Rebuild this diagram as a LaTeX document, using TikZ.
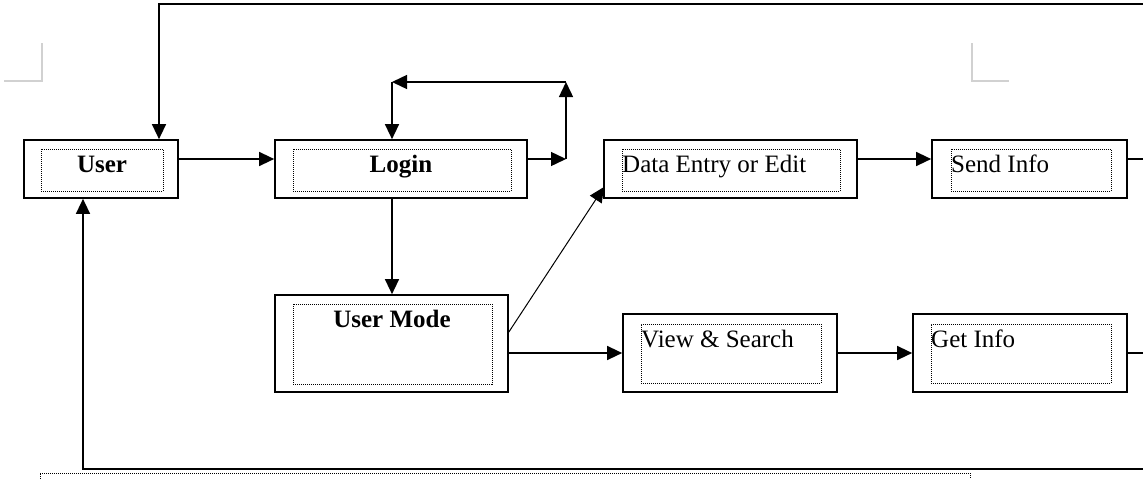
\documentclass[tikz,border=0pt]{standalone}
\usepackage{fontspec}
\setmainfont{Liberation Serif}
\usetikzlibrary{arrows.meta}
\begin{document}
\begin{tikzpicture}[x=1pt,y=-1pt,
  outer/.style={draw, line width=1.7pt, inner sep=0pt, fill=white},
  inner/.style={draw, line width=1pt, dash pattern=on 1pt off 1pt, inner sep=0pt},
  lbl/.style={inner sep=0pt, anchor=base, font=\fontsize{25}{28}\selectfont\bfseries},
  plbl/.style={inner sep=0pt, anchor=base west, font=\fontsize{25}{28}\selectfont},
  conn/.style={line width=1.4pt},
  arr/.style={conn, -{Triangle[length=15pt,width=14pt]}},
  corner/.style={draw=black!18, line width=1.5pt}]
\useasboundingbox (0,0) rectangle (1143,479);
% corner marks
\draw[corner] (42,43) -- (42,81) -- (4,81);
\draw[corner] (972,43) -- (972,81) -- (1009,81);
% boxes
\node[outer, minimum width=154pt, minimum height=58pt] (user) at (101,169) {};
\node[inner, minimum width=122pt, minimum height=42pt] (userin) at (102,170) {};
\node[lbl] (tuser) at (102,172) {User};
\node[outer, minimum width=252pt, minimum height=58pt] (login) at (401,169) {};
\node[inner, minimum width=218pt, minimum height=42pt] (loginin) at (402,170) {};
\node[lbl] (tlogin) at (401,172) {Login};
\node[outer, minimum width=253pt, minimum height=58pt] (data) at (730.5,169) {};
\node[inner, minimum width=218pt, minimum height=42pt] (datain) at (731,170) {};
\node[plbl] (tdata) at (622,172) {Data Entry or Edit};
\node[outer, minimum width=195pt, minimum height=58pt] (send) at (1029.5,169) {};
\node[inner, minimum width=160pt, minimum height=42pt] (sendin) at (1031,170) {};
\node[plbl] (tsend) at (951,172) {Send Info};
\node[outer, minimum width=233pt, minimum height=97pt] (mode) at (391.5,343.5) {};
\node[inner, minimum width=199pt, minimum height=80pt] (modein) at (392.5,344) {};
\node[lbl] (tmode) at (392,327) {User Mode};
\node[outer, minimum width=214pt, minimum height=78pt] (view) at (730,353) {};
\node[inner, minimum width=180pt, minimum height=59pt] (viewin) at (731,353.5) {};
\node[plbl] (tview) at (641,347) {View \& Search};
\node[outer, minimum width=214pt, minimum height=78pt] (get) at (1020,353) {};
\node[inner, minimum width=180pt, minimum height=59pt] (getin) at (1021,353.5) {};
\node[plbl] (tget) at (931,347) {Get Info};
% free-end coordinates
\coordinate (topR) at (1143,4);
\coordinate (topL) at (159,4);
\coordinate (loopA) at (566,159);
\coordinate (loopB) at (566,82);
\coordinate (loopC) at (392,82);
\coordinate (sendR) at (1143,159);
\coordinate (getR) at (1143,353);
\coordinate (botR) at (1143,469);
\coordinate (botL) at (83,469);
\coordinate (diagS) at (508,332);
\coordinate (diagE) at (604,187);
% connectors
\draw[arr] (topR) -- (topL) -- (topL |- user.north);
\draw[arr] (user.east |- 0,159) -- (login.west |- 0,159);
\draw[arr] (login.east |- loopA) -- (loopA);
\draw[arr] (loopA) -- (loopB);
\draw[arr] (loopB) -- (loopC);
\draw[arr] (loopC) -- (loopC |- login.north);
\draw[arr] (loopC |- login.south) -- (loopC |- mode.north);
\draw[line width=1pt, -{Triangle[length=15pt,width=14pt]}] (mode.east |- diagS) -- (diagE);
\draw[arr] (mode.east |- view.west) -- (view.west);
\draw[arr] (data.east |- 0,159) -- (send.west |- 0,159);
\draw[conn] (send.east |- sendR) -- (sendR);
\draw[arr] (view.east) -- (get.west);
\draw[conn] (get.east) -- (getR);
\draw[arr] (botR) -- (botL) -- (botL |- user.south);
% bottom dotted frame
\draw[line width=1pt, dash pattern=on 1pt off 1pt] (40,479) -- (40,473) -- (970,473) -- (970,479);
\end{tikzpicture}
\end{document}
